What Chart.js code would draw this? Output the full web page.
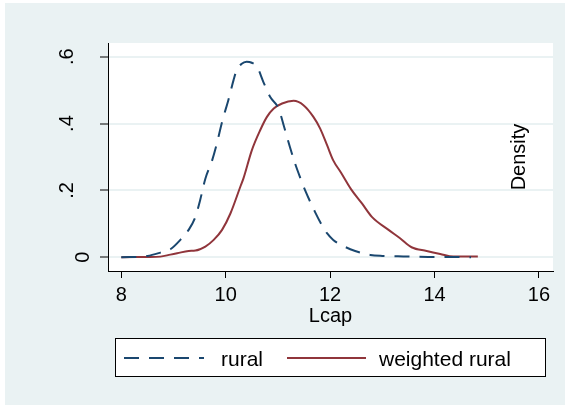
<!DOCTYPE html>
<html><head><meta charset="utf-8">
<script src="https://cdn.jsdelivr.net/npm/chart.js@4"></script>
<style>html,body{margin:0;padding:0;background:#fff}canvas{display:block}</style>
</head><body>
<canvas id="c" width="565" height="405"></canvas>
<script>
const xTicks = [8, 10, 12, 14, 16];
const yTicks = [0, 0.2, 0.4, 0.6];
const yTickLabels = ['0', '.2', '.4', '.6'];
const seriesNames = ['rural', 'weighted rural'];
const xTitle = 'Lcap';
const yTitle = 'Density';

const ruralX = [8, 8.5, 8.75, 8.94, 9.13, 9.29, 9.42, 9.51, 9.61, 9.74, 9.83, 9.93, 10.05, 10.15, 10.21, 10.30, 10.40, 10.50, 10.60, 10.72, 10.85, 11.01, 11.11, 11.23, 11.33, 11.43, 11.52, 11.71, 11.84, 11.94, 12.06, 12.25, 12.48, 12.77, 13.0, 13.3, 13.6, 14.0, 14.3, 14.7];
const ruralY = [0, 0.004, 0.014, 0.024, 0.052, 0.082, 0.121, 0.171, 0.235, 0.29, 0.34, 0.405, 0.47, 0.53, 0.56, 0.578, 0.585, 0.582, 0.57, 0.525, 0.48, 0.446, 0.395, 0.33, 0.28, 0.237, 0.201, 0.136, 0.097, 0.072, 0.052, 0.034, 0.019, 0.007, 0.004, 0.003, 0.002, 0.001, 0.001, 0];

const weightedX = [8, 8.5, 8.75, 8.94, 9.07, 9.29, 9.42, 9.61, 9.77, 9.93, 10.09, 10.28, 10.34, 10.50, 10.66, 10.79, 10.92, 11.08, 11.30, 11.49, 11.68, 11.81, 11.94, 12.06, 12.21, 12.40, 12.61, 12.80, 13.12, 13.34, 13.56, 13.85, 14.11, 14.36, 14.83];
const weightedY = [0, 0.001, 0.002, 0.008, 0.012, 0.019, 0.02, 0.032, 0.052, 0.082, 0.131, 0.211, 0.236, 0.32, 0.38, 0.42, 0.445, 0.46, 0.468, 0.455, 0.42, 0.385, 0.336, 0.29, 0.253, 0.204, 0.161, 0.121, 0.082, 0.057, 0.030, 0.019, 0.010, 0.002, 0.002];

const FONT = '"Liberation Sans", Arial, Helvetica, sans-serif';
const BG = '#eaf2f3';
const NAVY = '#1a476f';
const MAROON = '#90353b';

const toPts = (xs, ys) => xs.map((x, i) => ({x: x, y: ys[i]}));

const decor = {
  id: 'decor',
  beforeDraw(chart) {
    const ctx = chart.ctx, a = chart.chartArea;
    ctx.save();
    ctx.fillStyle = '#ffffff';
    ctx.fillRect(0, 0, chart.width, chart.height);
    ctx.fillStyle = BG;
    ctx.fillRect(5, 3, chart.width - 5, chart.height - 3);
    ctx.fillStyle = '#ffffff';
    ctx.fillRect(a.left, a.top, a.right - a.left, a.bottom - a.top);
    ctx.restore();
  },
  afterDraw(chart) {
    const ctx = chart.ctx, a = chart.chartArea;
    const ys = chart.scales.y;
    ctx.save();
    ctx.fillStyle = '#000';
    ctx.font = '20px ' + FONT;
    ys.ticks.forEach((t) => {
      const py = ys.getPixelForValue(t.value);
      const lbl = yTickLabels[yTicks.indexOf(t.value)] || '';
      ctx.save();
      ctx.translate(lbl === '0' ? 89 : 73, py);
      ctx.rotate(-Math.PI / 2);
      ctx.textAlign = 'center';
      ctx.textBaseline = 'alphabetic';
      ctx.fillText(lbl, 0, 0);
      ctx.restore();
    });
    ctx.save();
    ctx.translate(525, (a.top + a.bottom) / 2);
    ctx.rotate(-Math.PI / 2);
    ctx.textAlign = 'center';
    ctx.textBaseline = 'alphabetic';
    ctx.fillText(yTitle, 0, 0);
    ctx.restore();
    ctx.textAlign = 'center';
    ctx.textBaseline = 'alphabetic';
    ctx.fillText(xTitle, (a.left + a.right) / 2, 322);
    ctx.fillStyle = '#fff';
    ctx.fillRect(115.5, 338.5, 430, 38);
    ctx.strokeStyle = '#000';
    ctx.lineWidth = 1;
    ctx.strokeRect(115.5, 338.5, 430, 38);
    const ds = chart.data.datasets;
    const items = [{x0: 124, x1: 204, tx: 221}, {x0: 287, x1: 366, tx: 379}];
    ds.forEach((d, i) => {
      const it = items[i];
      ctx.save();
      ctx.strokeStyle = d.borderColor;
      ctx.lineWidth = d.borderWidth;
      ctx.setLineDash(d.borderDash || []);
      ctx.beginPath();
      ctx.moveTo(it.x0, 358);
      ctx.lineTo(it.x1, 358);
      ctx.stroke();
      ctx.restore();
      ctx.fillStyle = '#000';
      ctx.font = '21px ' + FONT;
      ctx.textAlign = 'left';
      ctx.textBaseline = 'alphabetic';
      ctx.fillText(d.label, it.tx, 366);
    });
    ctx.restore();
  }
};

new Chart(document.getElementById('c'), {
  type: 'scatter',
  data: {
    datasets: [
      {label: seriesNames[0], data: toPts(ruralX, ruralY), showLine: true, borderColor: NAVY, borderWidth: 2, borderDash: [15, 10], pointRadius: 0, cubicInterpolationMode: 'monotone', fill: false},
      {label: seriesNames[1], data: toPts(weightedX, weightedY), showLine: true, borderColor: MAROON, borderWidth: 2, pointRadius: 0, cubicInterpolationMode: 'monotone', fill: false}
    ]
  },
  options: {
    responsive: false,
    animation: false,
    devicePixelRatio: 1,
    layout: {padding: {left: 0, top: 43, right: 12, bottom: 78}},
    plugins: {legend: {display: false}, tooltip: {enabled: false}},
    scales: {
      x: {
        type: 'linear', min: 7.745, max: 16.27,
        afterBuildTicks: s => { s.ticks = xTicks.map(v => ({value: v})); },
        afterFit: s => { s.height = 56; },
        grid: {drawOnChartArea: false, drawTicks: true, tickLength: 7, tickColor: '#000', tickWidth: 1},
        border: {color: '#000', width: 1},
        ticks: {color: '#000', font: {family: FONT, size: 20}, padding: 5, maxRotation: 0, autoSkip: false, callback: v => String(v)}
      },
      y: {
        type: 'linear', min: -0.041, max: 0.641,
        afterBuildTicks: s => { s.ticks = yTicks.map(v => ({value: v})); },
        afterFit: s => { s.width = 108; },
        grid: {color: BG, lineWidth: 2, drawTicks: true, tickLength: 8, tickColor: '#000', tickWidth: 1},
        border: {color: '#000', width: 1},
        ticks: {display: false}
      }
    }
  },
  plugins: [decor]
});
</script>
</body></html>
